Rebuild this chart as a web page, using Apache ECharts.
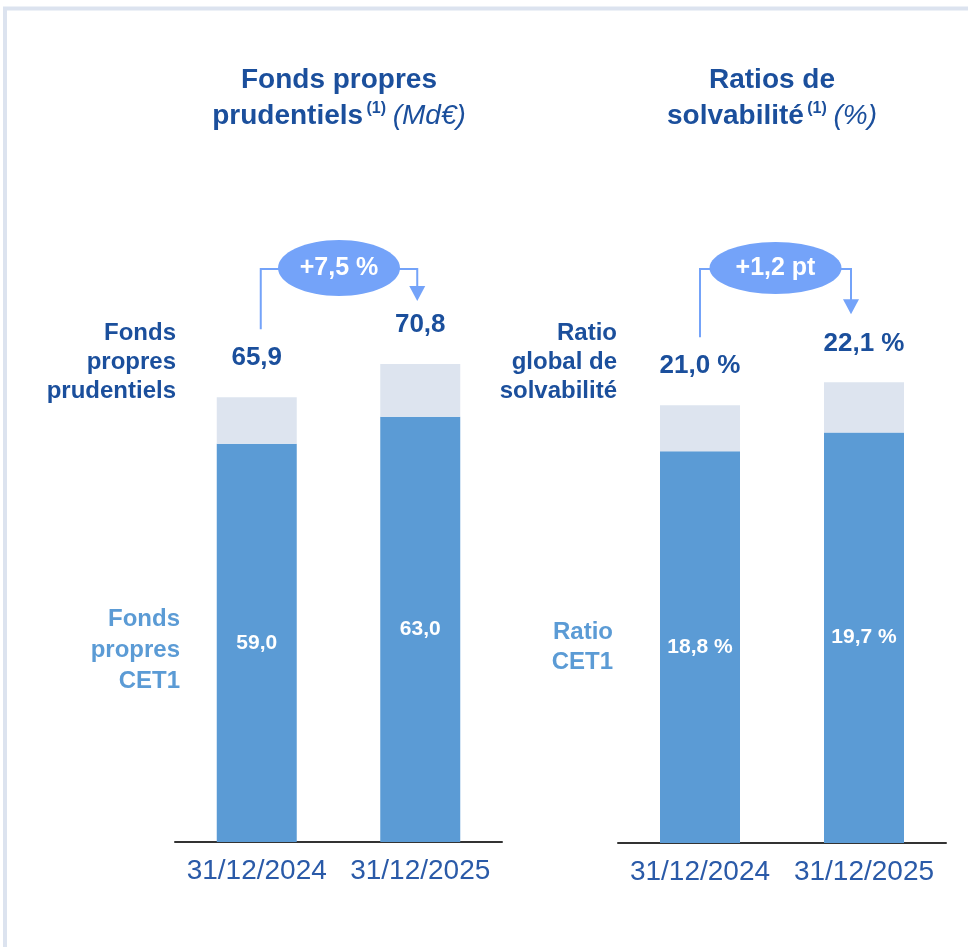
<!DOCTYPE html>
<html>
<head>
<meta charset="utf-8">
<script src="https://cdn.jsdelivr.net/npm/echarts@6/dist/echarts.min.js"></script>
<style>
html, body { margin: 0; padding: 0; background: #fff; }
#main { width: 968px; height: 947px; }
</style>
</head>
<body>
<div id="main"></div>
<script>
var dates = ['31/12/2024', '31/12/2025'];
var cet1Funds = [59.0, 63.0];
var totalFunds = [65.9, 70.8];
var cet1Ratio = [18.8, 19.7];
var totalRatio = [21.0, 22.1];
var fundsChange = '+7,5 %';
var ratioChange = '+1,2 pt';

var FONT = '"Liberation Sans", Arial, sans-serif';
var dark = '#1b4f9c';
var light = '#5b9bd5';
var pale = '#dde4ef';
var bubble = '#74a3f9';

function fr(v) { return v.toFixed(1).replace('.', ','); }
function diff(a, b) { return b.map(function (v, i) { return +(v - a[i]).toFixed(1); }); }

var chartDom = document.getElementById('main');
var myChart = echarts.init(chartDom);
var option;

function bars(idx, base, total, suffix) {
    return [
        {
            type: 'bar', xAxisIndex: idx, yAxisIndex: idx, stack: 's' + idx,
            barWidth: 80, data: base,
            itemStyle: { color: light },
            label: {
                show: true, position: 'inside', color: '#fff',
                fontFamily: FONT, fontWeight: 'bold', fontSize: 21,
                formatter: function (p) { return fr(p.value) + suffix; }
            }
        },
        {
            type: 'bar', xAxisIndex: idx, yAxisIndex: idx, stack: 's' + idx,
            barWidth: 80, data: diff(base, total),
            itemStyle: { color: pale },
            label: {
                show: true, position: 'top', distance: 26, color: dark,
                fontFamily: FONT, fontWeight: 'bold', fontSize: 26,
                formatter: function (p) { return fr(total[p.dataIndex]) + suffix; }
            }
        }
    ];
}

function xAx(idx) {
    return {
        type: 'category', gridIndex: idx, data: dates,
        axisLine: { lineStyle: { color: '#333', width: 2 } },
        axisTick: { show: false },
        axisLabel: { interval: 0, hideOverlap: false, color: '#2a5aa8', fontFamily: FONT, fontSize: 28, margin: 15 }
    };
}

option = {
    animation: false,
    backgroundColor: '#fff',
    grid: [
        { left: 175, width: 327, top: 167, bottom: 105 },
        { left: 618, width: 328, top: 176, bottom: 104 }
    ],
    xAxis: [xAx(0), xAx(1)],
    yAxis: [
        { type: 'value', gridIndex: 0, min: 0, max: 100, show: false },
        { type: 'value', gridIndex: 1, min: 0, max: 32, show: false }
    ],
    series: bars(0, cet1Funds, totalFunds, '').concat(bars(1, cet1Ratio, totalRatio, ' %'))
};

option && myChart.setOption(option);

// decorations: titles, side labels, change bubbles
function titleRich() {
    return {
        b: { fontFamily: FONT, fontWeight: 'bold', fontSize: 28, lineHeight: 36, fill: dark },
        sup: { fontFamily: FONT, fontWeight: 'bold', fontSize: 16, lineHeight: 20, padding: [0, 0, 14, 0], verticalAlign: 'middle', fill: dark },
        i: { fontFamily: FONT, fontStyle: 'italic', fontSize: 28, lineHeight: 36, fill: dark }
    };
}

function sideText(x, y, text, color, lh) {
    return {
        type: 'text', x: x, y: y,
        style: {
            text: text, fill: color, align: 'right', verticalAlign: 'middle',
            font: 'bold 24px ' + FONT, lineHeight: lh
        }
    };
}

function changeBubble(idx, total, label, rx, ry) {
    var p1 = myChart.convertToPixel({ xAxisIndex: idx, yAxisIndex: idx }, [0, total[0]]);
    var p2 = myChart.convertToPixel({ xAxisIndex: idx, yAxisIndex: idx }, [1, total[1]]);
    var lineY = 269;
    var x1 = p1[0] + (idx === 0 ? 4 : 0);
    var x2 = p2[0] - (idx === 0 ? 3 : 13);
    var cx = (x1 + x2) / 2;
    var tipY = p2[1] - (idx === 0 ? 63 : 68);
    return [
        { type: 'polyline', shape: { points: [[x1, p1[1] - 68], [x1, lineY], [cx, lineY]] },
          style: { stroke: bubble, lineWidth: 2, fill: null } },
        { type: 'polyline', shape: { points: [[cx, lineY], [x2, lineY], [x2, tipY - 14]] },
          style: { stroke: bubble, lineWidth: 2, fill: null } },
        { type: 'polygon', shape: { points: [[x2 - 8, tipY - 15], [x2 + 8, tipY - 15], [x2, tipY]] },
          style: { fill: bubble } },
        { type: 'ellipse', shape: { cx: cx, cy: lineY - 1, rx: rx, ry: ry }, style: { fill: bubble } },
        { type: 'text', x: cx, y: lineY - 1,
          style: { text: label, fill: '#fff', align: 'center', verticalAlign: 'middle', font: 'bold 25px ' + FONT } }
    ];
}

var graphics = [
    { type: 'rect', shape: { x: 5, y: 8.5, width: 1200, height: 1200 },
      style: { fill: null, stroke: '#dce3ef', lineWidth: 4 }, z: -1 },
    { type: 'text', x: 339, y: 98,
      style: { text: '{b|Fonds propres}\n{b|prudentiels} {sup|(1)}  {i|(Md€)}', rich: titleRich(),
               align: 'center', verticalAlign: 'middle' } },
    { type: 'text', x: 772, y: 98,
      style: { text: '{b|Ratios de}\n{b|solvabilité} {sup|(1)}  {i|(%)}', rich: titleRich(),
               align: 'center', verticalAlign: 'middle' } },
    sideText(176, 362, 'Fonds\npropres\nprudentiels', dark, 29),
    sideText(180, 650, 'Fonds\npropres\nCET1', light, 31),
    sideText(617, 362, 'Ratio\nglobal de\nsolvabilité', dark, 29),
    sideText(613, 647, 'Ratio\nCET1', light, 30)
].concat(changeBubble(0, totalFunds, fundsChange, 61, 28))
 .concat(changeBubble(1, totalRatio, ratioChange, 66, 26));

myChart.setOption({ graphic: graphics });
</script>
</body>
</html>
